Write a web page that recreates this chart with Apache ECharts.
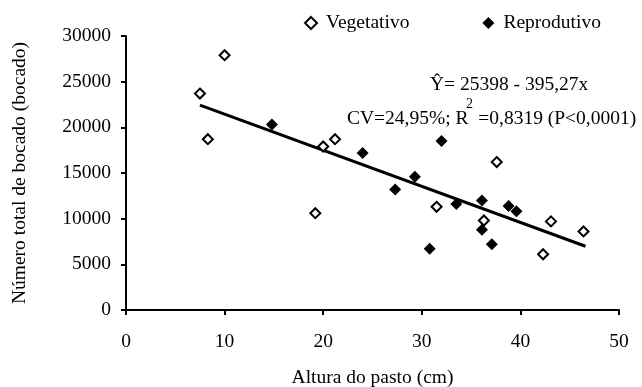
<!DOCTYPE html>
<html>
<head>
<meta charset="utf-8">
<script src="https://cdn.jsdelivr.net/npm/echarts@6/dist/echarts.min.js"></script>
<style>
  html, body { margin: 0; padding: 0; background: #fff; }
  #chart { width: 642px; height: 387px; }
</style>
</head>
<body>
<div id="chart"></div>
<script>
// valores
var vegX = [7.5, 10, 8.3, 20.0, 21.2, 19.2, 37.6, 31.5, 36.3, 43.1, 46.4, 42.3]
var vegY = [23700, 27900, 18700, 17900, 18700, 10600, 16200, 11300, 9800, 9700, 8600, 6100]
var repX = [14.8, 32.0, 24.0, 29.3, 27.3, 33.5, 36.1, 38.8, 39.6, 36.1, 37.1, 30.8]
var repY = [20300, 18500, 17200, 14600, 13200, 11600, 12000, 11400, 10800, 8800, 7200, 6700]
// reta ajustada: Y = 25398 - 395,27x
var intercept = 25398
var slope = -395.27
var lineX = [7.5, 46.6]

var font = 'Liberation Serif'
var fs = 19.5

function pairs(xs, ys) {
  return xs.map(function (x, i) { return [x, ys[i]] })
}

var chart = echarts.init(document.getElementById('chart'))
chart.setOption({
  animation: false,
  textStyle: { fontFamily: font, color: '#000' },
  grid: { left: 126, right: 23, top: 36, bottom: 77, containLabel: false, outerBoundsMode: 'none' },
  legend: {
    left: 299,
    top: 8,
    itemWidth: 12,
    itemHeight: 12,
    itemGap: 73,
    data: ['Vegetativo', 'Reprodutivo'],
    textStyle: { fontFamily: font, fontSize: fs, color: '#000', padding: [0, 0, 0, 4] }
  },
  xAxis: {
    type: 'value',
    min: 0,
    max: 50,
    interval: 10,
    name: 'Altura do pasto (cm)',
    nameLocation: 'middle',
    nameGap: 58,
    nameTextStyle: { fontFamily: font, fontSize: fs, color: '#000' },
    axisLine: { lineStyle: { color: '#000', width: 2 } },
    axisTick: { inside: false, length: 5, lineStyle: { color: '#000', width: 2 } },
    axisLabel: { margin: 22, fontFamily: font, fontSize: fs, color: '#000' },
    splitLine: { show: false }
  },
  yAxis: {
    type: 'value',
    min: 0,
    max: 30000,
    interval: 5000,
    name: 'Número total de bocado (bocado)',
    nameLocation: 'middle',
    nameGap: 96,
    nameTextStyle: { fontFamily: font, fontSize: fs, color: '#000' },
    axisLine: { show: true, lineStyle: { color: '#000', width: 2 } },
    axisTick: { show: true, length: 5, lineStyle: { color: '#000', width: 2 } },
    axisLabel: {
      margin: 15,
      fontFamily: font,
      fontSize: fs,
      color: '#000',
      formatter: function (v) { return String(v) }
    },
    splitLine: { show: false }
  },
  series: [{
    name: 'Vegetativo',
    type: 'scatter',
    symbol: 'diamond',
    symbolSize: 10,
    itemStyle: { color: '#fff', borderColor: '#000', borderWidth: 2, opacity: 1 },
    data: pairs(vegX, vegY),
    z: 3
  }, {
    name: 'Reprodutivo',
    type: 'scatter',
    symbol: 'diamond',
    symbolSize: 12,
    itemStyle: { color: '#000', opacity: 1 },
    data: pairs(repX, repY),
    z: 3
  }, {
    name: 'ajuste',
    type: 'line',
    symbol: 'none',
    silent: true,
    lineStyle: { color: '#000', width: 3 },
    data: lineX.map(function (x) { return [x, intercept + slope * x] }),
    z: 2
  }],
  graphic: [{
    type: 'text',
    left: 430,
    top: 75,
    style: { text: 'Ŷ= 25398 - 395,27x', font: fs + 'px "Liberation Serif"', fill: '#000' }
  }, {
    type: 'text',
    left: 347,
    top: 109,
    style: { text: 'CV=24,95%; R  =0,8319 (P<0,0001)', font: fs + 'px "Liberation Serif"', fill: '#000' }
  }, {
    type: 'text',
    left: 466,
    top: 97,
    style: { text: '2', font: '14px "Liberation Serif"', fill: '#000' }
  }]
})
</script>
</body>
</html>
